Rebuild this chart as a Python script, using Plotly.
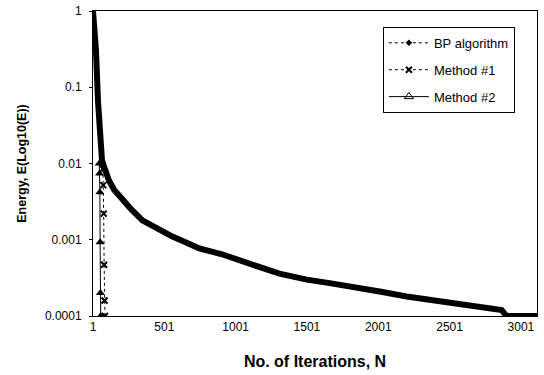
import plotly.graph_objects as go

# BP algorithm
bp_n = [1, 10, 22, 36, 50, 58, 64, 75, 90, 113, 150, 207, 270, 347, 450, 558, 650, 746,
        900, 1001, 1150, 1308, 1500, 1660, 1850, 2011, 2200, 2362, 2550, 2714, 2866, 2900,
        3000, 3114]
bp_e = [1, 0.7, 0.3, 0.066, 0.02, 0.0135, 0.011, 0.0095, 0.0078, 0.006, 0.0045, 0.0033,
        0.0025, 0.0018, 0.0014, 0.0011, 0.00093, 0.00077, 0.00065, 0.00057, 0.00045, 0.00036,
        0.0003, 0.00027, 0.00024, 0.00021, 0.00018, 0.000162, 0.000145, 0.000132, 0.00012,
        0.0001, 0.0001, 0.0001]

m1_n = [70, 73, 76, 79, 82, 85]
m1_e = [0.0085, 0.0052, 0.0022, 0.00047, 0.00016, 0.0001]

m2_n = [45, 47, 49, 51, 53, 55]
m2_e = [0.01, 0.0074, 0.0042, 0.00093, 0.0002, 0.0001]

x_ticks = [1, 501, 1001, 1501, 2001, 2501, 3001]
y_ticks = [1, 0.1, 0.01, 0.001, 0.0001]
y_tick_text = ["1", "0.1", "0.01", "0.001", "0.0001"]

fig = go.Figure()

fig.add_trace(go.Scatter(x=m1_n, y=m1_e, mode="lines+markers", name="Method #1",
                         legendgroup="b", showlegend=False,
                         line=dict(color="black", width=1, dash="dot"),
                         marker=dict(symbol="x-thin", size=6, line=dict(color="black", width=2))))
fig.add_trace(go.Scatter(x=m2_n, y=m2_e, mode="lines+markers", name="Method #2",
                         legendgroup="c", showlegend=False,
                         line=dict(color="black", width=1),
                         marker=dict(symbol="triangle-up", size=8, color="black")))
fig.add_trace(go.Scatter(x=bp_n, y=bp_e, mode="lines", name="BP algorithm",
                         legendgroup="a", showlegend=False,
                         line=dict(color="black", width=6)))

# legend entries
fig.add_trace(go.Scatter(x=[None], y=[None], mode="lines+markers", name="BP algorithm",
                         legendgroup="a",
                         line=dict(color="black", width=1, dash="dot"),
                         marker=dict(symbol="diamond", size=5, color="black")))
fig.add_trace(go.Scatter(x=[None], y=[None], mode="lines+markers", name="Method #1",
                         legendgroup="b",
                         line=dict(color="black", width=1, dash="dot"),
                         marker=dict(symbol="x-thin", size=6, line=dict(color="black", width=2))))
fig.add_trace(go.Scatter(x=[None], y=[None], mode="lines+markers", name="Method #2",
                         legendgroup="c",
                         line=dict(color="black", width=1),
                         marker=dict(symbol="triangle-up-open", size=8, color="black")))

fig.update_layout(
    width=544, height=375,
    margin=dict(l=93, r=7, t=11, b=59),
    paper_bgcolor="white", plot_bgcolor="white",
    font=dict(family="Arial, Liberation Sans, sans-serif", color="black", size=12),
    showlegend=True,
    legend=dict(x=0.653, y=0.948, xanchor="left", yanchor="top",
                bordercolor="black", borderwidth=1, bgcolor="white", itemwidth=40,
                font=dict(size=13), traceorder="grouped", tracegroupgap=7),
    xaxis=dict(range=[1, 3114], tickvals=x_ticks, ticktext=[str(v) for v in x_ticks],
               showgrid=False, zeroline=False, showline=True, linecolor="black", linewidth=1,
               mirror=True, ticks="", tickfont=dict(size=12), automargin=False,
               ticklabeloverflow="allow",
               title=dict(text="<b>No. of Iterations, N</b>", font=dict(size=16), standoff=22)),
    yaxis=dict(type="log", range=[-4, 0], tickvals=y_ticks, ticktext=y_tick_text,
               showgrid=False, zeroline=False, showline=True, linecolor="black", linewidth=1,
               mirror=True, ticks="outside", ticklen=3, tickcolor="black", tickfont=dict(size=12),
               automargin=False, ticklabelstandoff=5,
               title=dict(text="<b>Energy, E(Log10(E))</b>", font=dict(size=12.5), standoff=15)),
)

fig.write_html("out.html", config={"displayModeBar": False},
               post_script="document.body.style.margin='0';")
